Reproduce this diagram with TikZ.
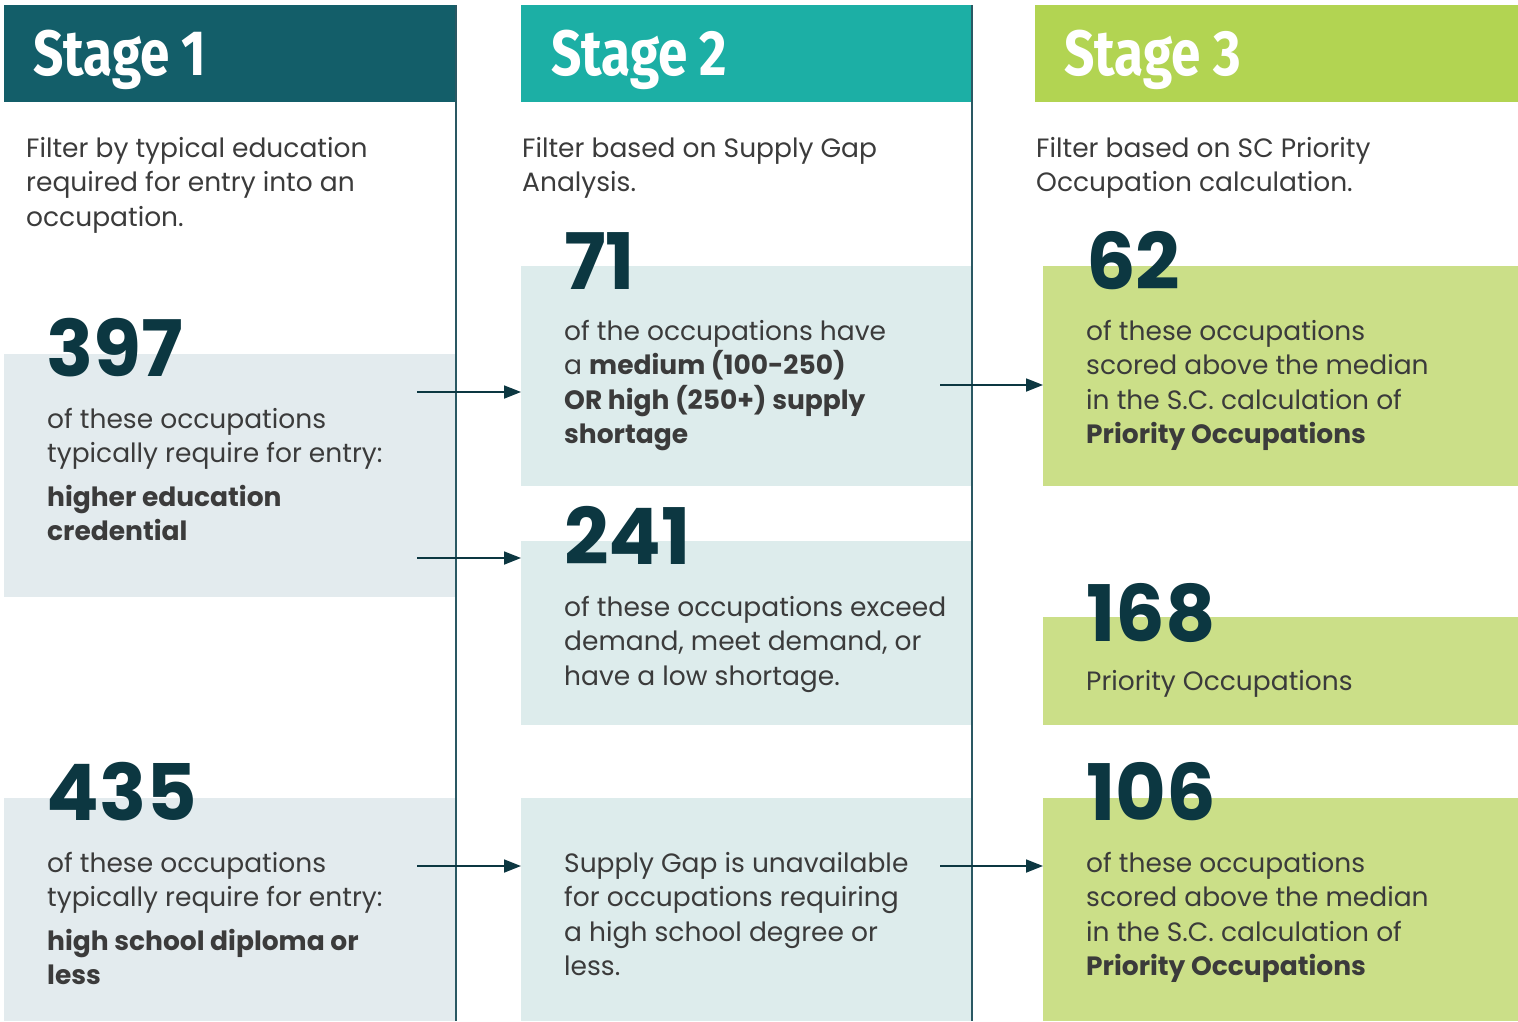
\documentclass[tikz,border=0pt]{standalone}
\usepackage{fontspec}
\setmainfont{Poppins}
\newfontfamily\stagefont{Fira Sans}[FakeStretch=0.83]
\usetikzlibrary{positioning, arrows.meta}

\definecolor{headone}{HTML}{135E69}
\definecolor{headtwo}{HTML}{1CAFA5}
\definecolor{headthree}{HTML}{B2D452}
\definecolor{boxone}{HTML}{E3EBEE}
\definecolor{boxtwo}{HTML}{DDECEC}
\definecolor{boxthree}{HTML}{CBDF88}
\definecolor{rule}{HTML}{2A5863}
\definecolor{deepteal}{HTML}{0C3741}
\definecolor{bodygrey}{HTML}{3B3B3B}

\begin{document}
\begin{tikzpicture}[x=1pt, y=-1pt,
    panel/.style={anchor=north west, inner sep=0pt, outer sep=0pt, fill=#1},
    stage/.style={anchor=base west, inner sep=0pt, text=white, font=\stagefont\bfseries\fontsize{64}{64}\selectfont},
    bignum/.style={anchor=base west, inner sep=0pt, text=deepteal, font=\fontsize{78}{78}\selectfont\bfseries},
    body/.style={anchor=base west, inner sep=0pt, align=left, text=bodygrey, font=\fontsize{26.5}{34.5}\selectfont},
    divider/.style={draw=rule, line width=1.8pt},
    flow/.style={draw=deepteal, line width=1.8pt, -{Triangle[length=17pt, width=13pt]}}]

    \useasboundingbox (0,0) rectangle (1518,1021);

    % headers
    \node[panel=headone, minimum width=452, minimum height=97] (h1) at (4,5) {};
    \node[panel=headtwo, minimum width=451, minimum height=97] (h2) at (521,5) {};
    \node[panel=headthree, minimum width=483, minimum height=97] (h3) at (1035,5) {};
    \node[stage] (t1) at (33,75) {Stage 1};
    \node[stage] (t2) at (551,75) {Stage 2};
    \node[stage] (t3) at (1064,75) {Stage 3};

    % boxes
    \node[panel=boxone, minimum width=452, minimum height=243] (s1a) at (4,354) {};
    \node[panel=boxone, minimum width=452, minimum height=223] (s1b) at (4,798) {};
    \node[panel=boxtwo, minimum width=451, minimum height=220] (s2a) at (521,266) {};
    \node[panel=boxtwo, minimum width=451, minimum height=184] (s2b) at (521,541) {};
    \node[panel=boxtwo, minimum width=451, minimum height=223] (s2c) at (521,798) {};
    \node[panel=boxthree, minimum width=475, minimum height=220] (s3a) at (1043,266) {};
    \node[panel=boxthree, minimum width=475, minimum height=108] (s3b) at (1043,617) {};
    \node[panel=boxthree, minimum width=475, minimum height=223] (s3c) at (1043,798) {};

    % column dividers
    \coordinate (d1) at (456,1021);
    \coordinate (d2) at (972,1021);
    \draw[divider] (h1.north east) -- (d1);
    \draw[divider] (h2.north east) -- (d2);

    % intro lines (base = last line)
    \node[body] (i1) at (26,226) {Filter by typical education\\required for entry into an\\occupation.};
    \node[body] (i2) at (522,191.5) {Filter based on Supply Gap\\Analysis.};
    \node[body] (i3) at (1036,191.5) {Filter based on SC Priority\\Occupation calculation.};

    % stage 1
    \node[bignum] (n397) at (46,376) {397};
    \node[body] (b397) at (47,540.5) {of these occupations\\typically require for entry:\\[9pt]\textbf{higher education}\\\textbf{credential}};
    \node[bignum] (n435) at (46,820) {435};
    \node[body] (b435) at (47,984.5) {of these occupations\\typically require for entry:\\[9pt]\textbf{high school diploma or}\\\textbf{less}};

    % stage 2
    \node[bignum] (n71) at (564,289) {71};
    \node[body] (b71) at (564,443.5) {of the occupations have\\a \textbf{medium (100-250)}\\\textbf{OR high (250+) supply}\\\textbf{shortage}};
    \node[bignum] (n241) at (564,564) {241};
    \node[body] (b241) at (564,685) {of these occupations exceed\\demand, meet demand, or\\have a low shortage.};
    \node[body] (bgap) at (564,975.5) {Supply Gap is unavailable\\for occupations requiring\\a high school degree or\\less.};

    % stage 3
    \node[bignum] (n62) at (1086,289) {62};
    \node[body] (b62) at (1086,443.5) {of these occupations\\scored above the median\\in the S.C. calculation of\\\textbf{Priority Occupations}};
    \node[bignum] (n168) at (1086,641) {168};
    \node[body] (b168) at (1086,690) {Priority Occupations};
    \node[bignum] (n106) at (1086,820) {106};
    \node[body] (b106) at (1086,975.5) {of these occupations\\scored above the median\\in the S.C. calculation of\\\textbf{Priority Occupations}};

    % arrows
    \coordinate (a1) at (417,392);
    \coordinate (a2) at (417,558);
    \coordinate (a3) at (417,866);
    \coordinate (a4) at (940,385);
    \coordinate (a5) at (940,866);
    \draw[flow] (a1) -- (a1 -| s2a.west);
    \draw[flow] (a2) -- (a2 -| s2b.west);
    \draw[flow] (a3) -- (a3 -| s2c.west);
    \draw[flow] (a4) -- (a4 -| s3a.west);
    \draw[flow] (a5) -- (a5 -| s3c.west);
\end{tikzpicture}
\end{document}
